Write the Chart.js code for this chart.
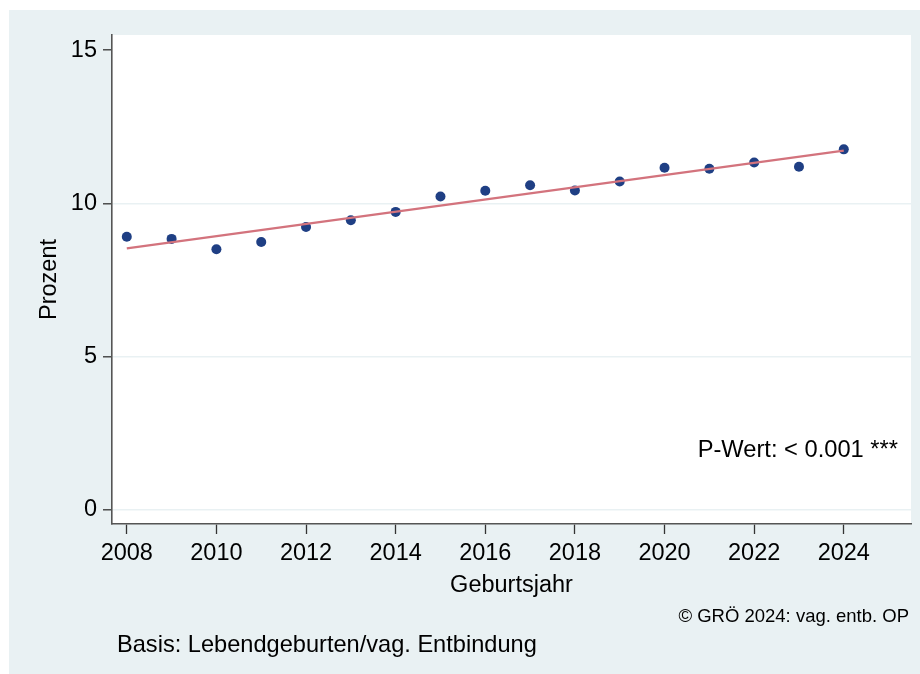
<!DOCTYPE html>
<html><head><meta charset="utf-8">
<script src="https://cdn.jsdelivr.net/npm/chart.js@4/dist/chart.umd.min.js"></script>
<style>html,body{margin:0;padding:0;background:#fff;overflow:hidden}</style>
</head><body>
<canvas id="c" width="920" height="674"></canvas>
<script>
const years = [2008,2009,2010,2011,2012,2013,2014,2015,2016,2017,2018,2019,2020,2021,2022,2023,2024];
const percent = [8.91,8.84,8.50,8.74,9.23,9.45,9.72,10.22,10.41,10.59,10.42,10.71,11.16,11.13,11.33,11.19,11.76];
const fitYears = [2008, 2024];
const fitValues = [8.53, 11.72];
const xTicks = [2008,2010,2012,2014,2016,2018,2020,2022,2024];
const yTicks = [0,5,10,15];
const yGridTicks = [0,5,10];
const xTitle = 'Geburtsjahr';
const yTitle = 'Prozent';
const pText = 'P-Wert: < 0.001 ***';
const noteRight = '\u00A9 GR\u00D6 2024: vag. entb. OP';
const noteLeft = 'Basis: Lebendgeburten/vag. Entbindung';

const FONT = '"Liberation Sans", Arial, sans-serif';
const BG = '#e9f1f3';

const decor = {
  id: 'decor',
  beforeDraw(chart) {
    const ctx = chart.ctx, a = chart.chartArea;
    ctx.save();
    ctx.fillStyle = '#ffffff';
    ctx.fillRect(0, 0, chart.width, chart.height);
    ctx.fillStyle = BG;
    ctx.fillRect(9, 10, chart.width - 9, chart.height - 10);
    ctx.fillStyle = '#ffffff';
    ctx.fillRect(a.left, a.top, a.right - a.left, a.bottom - a.top);
    ctx.restore();
  },
  afterDraw(chart) {
    const ctx = chart.ctx, a = chart.chartArea;
    ctx.save();
    ctx.fillStyle = '#000';
    ctx.textBaseline = 'alphabetic';
    ctx.font = '23.5px ' + FONT;
    // y title
    ctx.save();
    ctx.translate(56, (a.top + a.bottom) / 2);
    ctx.rotate(-Math.PI / 2);
    ctx.textAlign = 'center';
    ctx.fillText(yTitle, 0, 0);
    ctx.restore();
    // x title
    ctx.textAlign = 'center';
    ctx.fillText(xTitle, (a.left + a.right) / 2, 592);
    // p-value
    ctx.textAlign = 'right';
    ctx.font = '23.7px ' + FONT;
    ctx.fillText(pText, 898, 457);
    // notes
    ctx.font = '18.5px ' + FONT;
    ctx.textAlign = 'right';
    ctx.fillText(noteRight, 909, 622);
    ctx.font = '23.6px ' + FONT;
    ctx.textAlign = 'left';
    ctx.fillText(noteLeft, 117, 652);
    ctx.restore();
  }
};

new Chart(document.getElementById('c'), {
  type: 'scatter',
  data: {
    datasets: [
      {
        type: 'line',
        data: fitYears.map((x, i) => ({x, y: fitValues[i]})),
        borderColor: '#d3737d',
        borderWidth: 2.3,
        pointRadius: 0,
        fill: false,
        order: 0
      },
      {
        type: 'scatter',
        data: years.map((x, i) => ({x, y: percent[i]})),
        backgroundColor: '#1f3f84',
        borderWidth: 0,
        pointRadius: 5,
        order: 1
      }
    ]
  },
  options: {
    responsive: false,
    devicePixelRatio: 1,
    animation: false,
    events: [],
    layout: { padding: { top: 35, right: 9, bottom: 0, left: 0 } },
    plugins: { legend: { display: false }, tooltip: { enabled: false }, title: { display: false } },
    scales: {
      x: {
        type: 'linear',
        min: 2007.67,
        max: 2025.5,
        afterBuildTicks: s => { s.ticks = xTicks.map(v => ({value: v})); },
        afterFit: s => { s.height = 150; },
        ticks: {
          font: { family: FONT, size: 23.5 },
          color: '#000',
          padding: 5,
          maxRotation: 0,
          autoSkip: false,
          callback: v => String(v)
        },
        grid: { drawOnChartArea: false, tickLength: 10, tickColor: '#333', tickWidth: 1.3 },
        border: { color: '#555', width: 1.6 }
      },
      y: {
        min: -0.46,
        max: 15.49,
        afterBuildTicks: s => { s.ticks = yTicks.map(v => ({value: v})); },
        afterFit: s => { s.width = 112; },
        ticks: {
          font: { family: FONT, size: 23.5 },
          color: '#000',
          padding: 6,
          callback: v => String(v)
        },
        grid: {
          color: c => (c.tick && yGridTicks.includes(c.tick.value)) ? BG : 'rgba(0,0,0,0)',
          lineWidth: 1.6,
          tickLength: 9,
          tickColor: '#333',
          tickWidth: 1.3
        },
        border: { color: '#555', width: 1.6 }
      }
    }
  },
  plugins: [decor]
});
</script>
</body></html>
